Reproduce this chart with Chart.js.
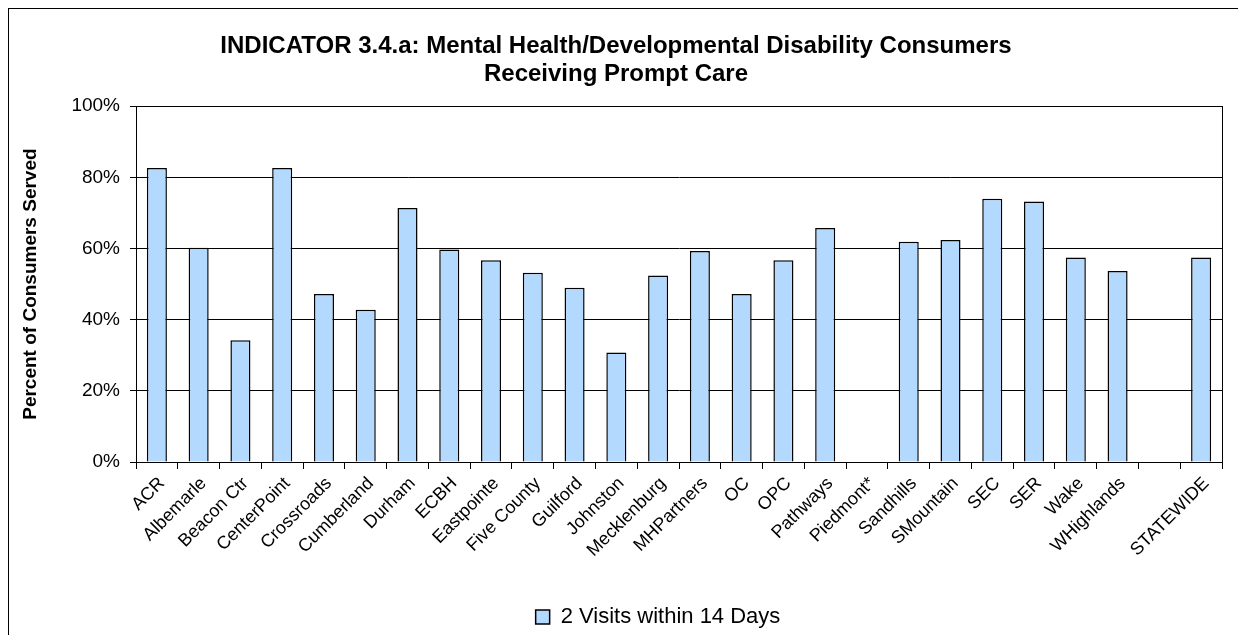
<!DOCTYPE html>
<html>
<head>
<meta charset="utf-8">
<script src="https://cdn.jsdelivr.net/npm/chart.js@4"></script>
<style>
    body { margin: 0; background: #fff; }
    #wrap { position: relative; width: 1238px; height: 635px; overflow: hidden; }
    #frame { position: absolute; left: 8px; top: 8px; width: 1240px; height: 640px; border: 1px solid #000; pointer-events: none; }
</style>
</head>
<body>
<div id="wrap">
    <canvas id="promptCare" width="1238" height="635"></canvas>
    <div id="frame"></div>
</div>
<script>
const categories = ["ACR", "Albemarle", "Beacon Ctr", "CenterPoint", "Crossroads", "Cumberland", "Durham", "ECBH",
    "Eastpointe", "Five County", "Guilford", "Johnston", "Mecklenburg", "MHPartners", "OC", "OPC", "Pathways",
    "Piedmont*", "Sandhills", "SMountain", "SEC", "SER", "Wake", "WHighlands", "", "STATEWIDE"];
const twoVisits = [82.6, 60.2, 34.2, 82.6, 47.2, 42.8, 71.4, 59.7, 56.7, 53.2, 49.0, 30.8, 52.4, 59.3, 47.2, 56.7, 65.8,
    null, 61.9, 62.4, 74.0, 73.2, 57.5, 53.7, null, 57.5];
const titleLines = ["INDICATOR 3.4.a: Mental Health/Developmental Disability Consumers", "Receiving Prompt Care"];
const seriesName = "2 Visits within 14 Days";
const yTitle = "Percent of Consumers Served";

const FONT = "'Liberation Sans', Arial, sans-serif";

// outline of the plot area (Excel style)
const plotBorder = {
    id: "plotBorder",
    afterDraw(chart) {
        const a = chart.chartArea;
        const c = chart.ctx;
        c.save();
        c.strokeStyle = "#000";
        c.lineWidth = 1;
        c.strokeRect(Math.round(a.left) + 0.5, Math.round(a.top) + 0.5,
            Math.round(a.right - a.left), Math.round(a.bottom - a.top));
        c.restore();
    }
};

// legend sits a bit right of centre in the original
const legendShift = {
    id: "legendShift",
    afterLayout(chart) {
        chart.legend.left += 42;
        chart.legend.right += 42;
        chart.legend.top += 3;
        chart.legend.bottom += 3;
    }
};

document.addEventListener("DOMContentLoaded", function () {
    const ctx = document.getElementById("promptCare").getContext("2d");
    new Chart(ctx, {
        type: "bar",
        data: {
            labels: categories,
            datasets: [{
                label: seriesName,
                data: twoVisits,
                backgroundColor: "#b4d9ff",
                borderColor: "#000",
                borderWidth: 1.5,
                barPercentage: 0.48,
                categoryPercentage: 1
            }]
        },
        plugins: [plotBorder, legendShift],
        options: {
            responsive: false,
            animation: false,
            layout: { padding: { left: 10, right: 16, top: 0, bottom: 0 } },
            plugins: {
                title: {
                    display: true,
                    text: titleLines,
                    color: "#000",
                    font: { family: FONT, size: 24, weight: "bold", lineHeight: 1.15 },
                    padding: { top: 33, bottom: 18 }
                },
                legend: {
                    position: "bottom",
                    labels: {
                        color: "#000",
                        boxWidth: 14,
                        boxHeight: 14,
                        padding: 10,
                        font: { family: FONT, size: 22 }
                    }
                },
                tooltip: { enabled: false }
            },
            scales: {
                x: {
                    afterFit: function (scale) { scale.height = 131; },
                    grid: {
                        offset: true,
                        drawOnChartArea: false,
                        color: "#000",
                        tickLength: 7
                    },
                    border: { color: "#000", width: 1 },
                    ticks: {
                        color: "#000",
                        autoSkip: false,
                        minRotation: 45,
                        maxRotation: 45,
                        padding: 4,
                        labelOffset: 5,
                        font: { family: FONT, size: 18 }
                    }
                },
                y: {
                    min: 0,
                    max: 100,
                    afterFit: function (scale) { scale.width = 126; },
                    grid: { color: "#000", tickLength: 6 },
                    border: { color: "#000", width: 1 },
                    ticks: {
                        stepSize: 20,
                        color: "#000",
                        padding: 10,
                        font: { family: FONT, size: 19 },
                        callback: function (v) { return v + "%"; }
                    },
                    title: {
                        display: true,
                        text: yTitle,
                        color: "#000",
                        font: { family: FONT, size: 19, weight: "bold" },
                        padding: { top: 9, bottom: 0 }
                    }
                }
            }
        }
    });
});
</script>
</body>
</html>
